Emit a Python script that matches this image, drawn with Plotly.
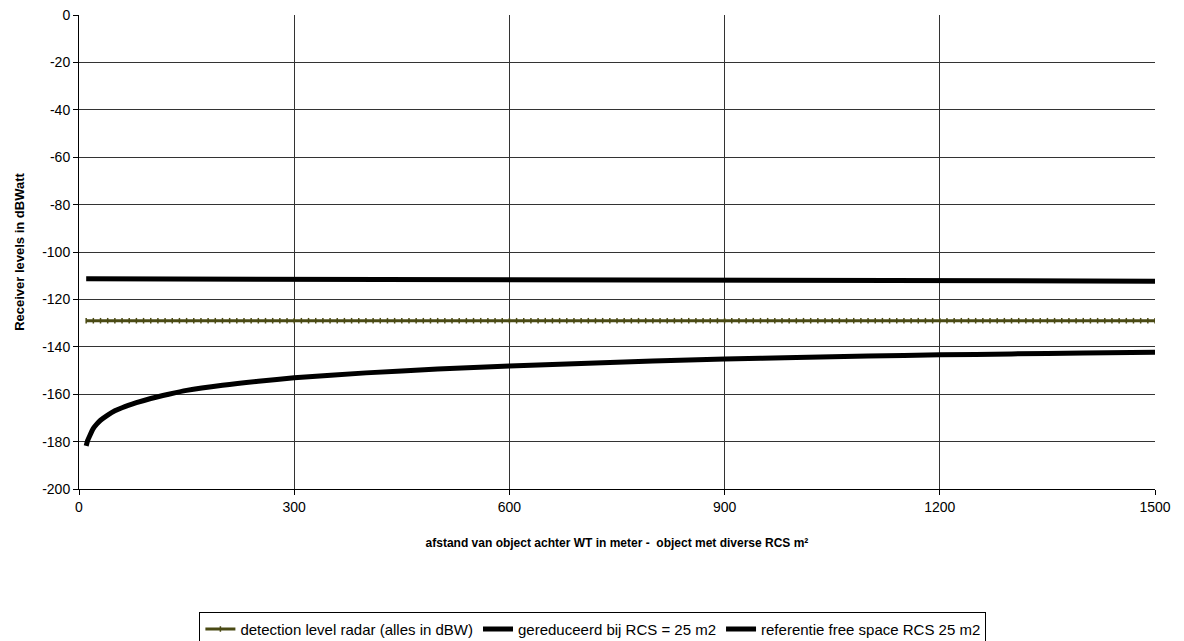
import plotly.graph_objects as go

# detection level (constant) sampled every 10 m
det_x = list(range(10, 1501, 10))
det_y = [-129.0] * len(det_x)

# reduced level at RCS = 25 m2 (nearly flat)
red_x = [10, 300, 600, 900, 1200, 1500]
red_y = [-111.3, -111.5, -111.7, -111.9, -112.1, -112.3]

# free-space reference RCS 25 m2
ref_x = [10, 12, 15, 20, 25, 30, 40, 50, 60, 80, 100, 125, 150, 200, 250, 300,
         400, 500, 600, 700, 800, 900, 1000, 1100, 1200, 1300, 1400, 1500]
ref_y = [-181.8, -179.6, -177.5, -174.4, -172.5, -171.0, -168.8, -167.0, -165.7,
         -163.6, -161.8, -160.0, -158.4, -156.2, -154.5, -153.1, -151.0, -149.4,
         -148.1, -147.0, -146.0, -145.2, -144.5, -143.9, -143.4, -143.0, -142.6, -142.3]

names = ["detection level radar (alles in dBW)",
         "gereduceerd bij RCS = 25 m2",
         "referentie free space RCS 25 m2"]

x_ticks = [0, 300, 600, 900, 1200, 1500]
x_ticklabels = ["0", "300", "600", "900", "1200", "1500"]
y_ticks = [0, -20, -40, -60, -80, -100, -120, -140, -160, -180, -200]
y_ticklabels = ["0", "-20", "-40", "-60", "-80", "-100", "-120", "-140", "-160", "-180", "-200"]

fig = go.Figure()
fig.add_trace(go.Scatter(x=det_x, y=det_y, name=names[0], mode="lines+markers",
                         line=dict(color="#4a4a14", width=3),
                         marker=dict(symbol="line-ns-open", size=4,
                                     line=dict(color="#4a4a14", width=1.5))))
fig.add_trace(go.Scatter(x=red_x, y=red_y, name=names[1], mode="lines",
                         line=dict(color="#000000", width=5)))
fig.add_trace(go.Scatter(x=ref_x, y=ref_y, name=names[2], mode="lines",
                         line=dict(color="#000000", width=5, shape="spline", smoothing=0.6)))

fig.update_layout(
    width=1184, height=641,
    margin=dict(l=71, r=37, t=7, b=160, autoexpand=False),
    paper_bgcolor="white", plot_bgcolor="white",
    font=dict(family="Liberation Sans, Arial, sans-serif", size=14, color="#000"),
    showlegend=True,
    legend=dict(orientation="h", x=0.494, xanchor="center", xref="container",
                y=0.058, yanchor="top", yref="container",
                bordercolor="#000", borderwidth=1, font=dict(size=15),
                itemwidth=30, tracegroupgap=0),
    xaxis=dict(range=[0, 1500], tickvals=x_ticks, ticktext=x_ticklabels,
               showgrid=True, gridcolor="#333", automargin=False,
               gridwidth=1, showline=True, linecolor="#000", linewidth=1,
               ticks="outside", ticklen=5, tickcolor="#000", zeroline=False,
               tickfont=dict(size=14), ticklabeloverflow="allow",
               title=dict(text="<b>afstand van object achter WT in meter -  object met diverse RCS m²</b>",
                          font=dict(size=12), standoff=24)),
    yaxis=dict(range=[-200, 0], tickvals=y_ticks, ticktext=y_ticklabels,
               showgrid=True, gridcolor="#333", automargin=False,
               gridwidth=1, showline=True, linecolor="#000", linewidth=1,
               ticks="outside", ticklen=5, tickcolor="#000", zeroline=False,
               tickfont=dict(size=14), ticklabeloverflow="allow",
               title=dict(text="<b>Receiver levels in dBWatt</b>", font=dict(size=13),
                          standoff=14)),
)
fig.write_html("out.html")
